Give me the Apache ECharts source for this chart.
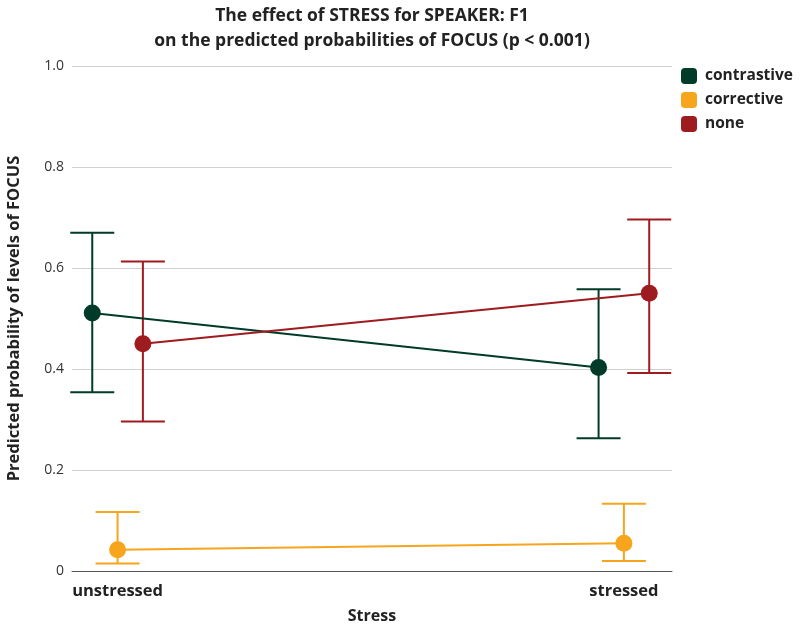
<!DOCTYPE html>
<html>
<head>
<meta charset="utf-8">
<script src="https://cdn.jsdelivr.net/npm/echarts@6/dist/echarts.min.js"></script>
<style>html,body{margin:0;padding:0;background:#fff}#chart{width:800px;height:626px}</style>
</head>
<body>
<div id="chart"></div>
<script>
const categories = ['unstressed', 'stressed'];
const focusLevels = ['contrastive', 'corrective', 'none'];
const contrastiveFit = [0.511, 0.403];
const contrastiveLow = [0.354, 0.263];
const contrastiveHigh = [0.670, 0.558];
const correctiveFit = [0.042, 0.055];
const correctiveLow = [0.015, 0.020];
const correctiveHigh = [0.117, 0.133];
const noneFit = [0.450, 0.550];
const noneLow = [0.296, 0.392];
const noneHigh = [0.613, 0.696];
const yTicks = [0, 0.2, 0.4, 0.6, 0.8, 1.0];

const colors = ['#003b29', '#f7a51d', '#9e1b20'];
const dodge = [-0.05, 0, 0.05];
const fits = [contrastiveFit, correctiveFit, noneFit];
const lows = [contrastiveLow, correctiveLow, noneLow];
const highs = [contrastiveHigh, correctiveHigh, noneHigh];
const FONT = 'Open Sans';

const series = [];
focusLevels.forEach((name, i) => {
  const color = colors[i];
  series.push({
    name: name,
    type: 'custom',
    z: 2,
    silent: true,
    encode: { x: 0, y: [1, 2] },
    data: categories.map((c, j) => [j + 1 + dodge[i], lows[i][j], highs[i][j]]),
    renderItem: function (params, api) {
      const x = api.value(0);
      const top = api.coord([x, api.value(2)]);
      const bot = api.coord([x, api.value(1)]);
      const half = 22;
      const st = { stroke: color, lineWidth: 2 };
      return {
        type: 'group',
        children: [
          { type: 'line', shape: { x1: top[0], y1: top[1], x2: bot[0], y2: bot[1] }, style: st },
          { type: 'line', shape: { x1: top[0] - half, y1: top[1], x2: top[0] + half, y2: top[1] }, style: st },
          { type: 'line', shape: { x1: bot[0] - half, y1: bot[1], x2: bot[0] + half, y2: bot[1] }, style: st }
        ]
      };
    }
  });
  series.push({
    name: name,
    type: 'line',
    z: 3,
    symbol: 'circle',
    symbolSize: 17,
    itemStyle: { color: color },
    lineStyle: { color: color, width: 2 },
    data: categories.map((c, j) => [j + 1 + dodge[i], fits[i][j]])
  });
});

const chart = echarts.init(document.getElementById('chart'));
chart.setOption({
  animation: false,
  color: colors,
  title: {
    text: 'The effect of STRESS for SPEAKER: F1\non the predicted probabilities of FOCUS (p < 0.001)',
    left: 372,
    textAlign: 'center',
    top: 4,
    padding: 0,
    textStyle: { fontFamily: FONT, fontSize: 17.5, fontWeight: 'bold', color: '#222', lineHeight: 25 }
  },
  legend: {
    data: focusLevels,
    orient: 'vertical',
    left: 676,
    top: 63,
    icon: 'roundRect',
    itemWidth: 16,
    itemHeight: 16,
    itemGap: 8,
    textStyle: { fontFamily: FONT, fontSize: 15.5, fontWeight: 'bold', color: '#222', padding: [0, 0, 0, 3] }
  },
  grid: { left: 72, right: 128, top: 66, bottom: 55, containLabel: false, outerBoundsMode: 'none' },
  xAxis: {
    type: 'value',
    min: 0.91,
    max: 2.095,
    name: 'Stress',
    nameLocation: 'middle',
    nameGap: 37,
    nameTextStyle: { fontFamily: FONT, fontSize: 16, fontWeight: 'bold', color: '#222' },
    axisLine: { show: true, lineStyle: { color: '#555', width: 1 } },
    axisTick: { show: false },
    splitLine: { show: false },
    axisLabel: {
      customValues: [1, 2],
      formatter: v => categories[Math.round(v) - 1] || '',
      margin: 12,
      fontFamily: FONT, fontSize: 16.5, fontWeight: 'bold', color: '#222'
    }
  },
  yAxis: {
    type: 'value',
    min: 0,
    max: 1,
    interval: 0.2,
    name: 'Predicted probability of levels of FOCUS',
    nameLocation: 'middle',
    nameGap: 49,
    nameTextStyle: { fontFamily: FONT, fontSize: 16.5, fontWeight: 'bold', color: '#222' },
    axisLine: { show: false },
    axisTick: { show: false },
    splitLine: { show: true, lineStyle: { color: '#d0d0d0', width: 1 } },
    axisLabel: {
      margin: 8,
      formatter: v => { const t = yTicks.find(k => Math.abs(k - v) < 1e-9); return t === 0 ? '0' : (t !== undefined ? t.toFixed(1) : ''); },
      fontFamily: FONT, fontSize: 14, color: '#333'
    }
  },
  series: series
});
</script>
</body>
</html>
